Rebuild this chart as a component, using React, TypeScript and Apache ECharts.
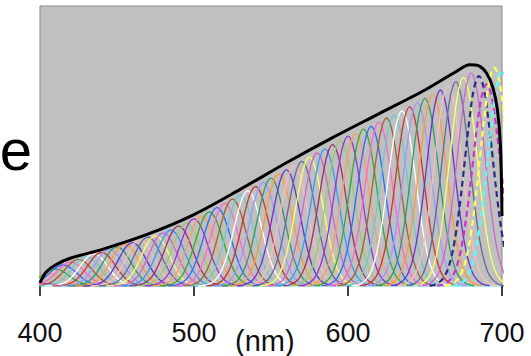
import React, { useEffect, useRef } from "react";
import * as echarts from "echarts";

// Peak wavelengths (nm) of the individual band curves
const CENTERS = [
  400, 405, 410, 415, 420, 425, 430, 435, 440, 445, 450, 455, 460, 465, 470, 475, 480, 485, 490, 495,
  500, 505, 510, 515, 520, 525, 530, 535, 540, 545, 550, 555, 560, 565, 570, 575, 580, 585, 590, 595,
  600, 605, 610, 615, 620, 625, 630, 635, 640, 645, 650, 655, 660, 665, 670, 675, 680, 685, 690, 695, 700,
];
// Peak heights (relative) of the band curves
const HEIGHTS = [
  0.01, 0.045, 0.06, 0.075, 0.085, 0.095, 0.105, 0.115, 0.12, 0.13, 0.14, 0.15, 0.155, 0.165, 0.175, 0.18, 0.19, 0.2, 0.215, 0.225,
  0.24, 0.25, 0.265, 0.28, 0.295, 0.31, 0.325, 0.34, 0.355, 0.37, 0.385, 0.4, 0.415, 0.43, 0.445, 0.46, 0.475, 0.49, 0.505, 0.52,
  0.535, 0.545, 0.56, 0.57, 0.585, 0.6, 0.61, 0.625, 0.64, 0.655, 0.67, 0.685, 0.7, 0.715, 0.73, 0.745, 0.76, 0.75, 0.72, 0.78, 0.77,
];
// Band shape: offset from peak (nm) and relative height
const PROFILE_OFFSET = [-32, -27, -22, -18, -15, -12, -9, -6, -3, 0, 3, 6, 9, 12, 15, 18, 22, 27, 32];
const PROFILE_REL = [0.002, 0.011, 0.05, 0.135, 0.249, 0.411, 0.607, 0.801, 0.946, 1, 0.946, 0.801, 0.607, 0.411, 0.249, 0.135, 0.05, 0.011, 0.002];

// Black envelope curve
const ENVELOPE_X = [400, 404, 410, 420, 440, 470, 500, 530, 560, 590, 620, 650, 670, 679, 685, 690, 694, 697, 699, 700];
const ENVELOPE_Y = [0.011, 0.05, 0.075, 0.1, 0.13, 0.185, 0.255, 0.345, 0.44, 0.53, 0.615, 0.7, 0.765, 0.79, 0.786, 0.76, 0.71, 0.63, 0.5, 0.25];

const TICKS = [400, 500, 600, 700];
const DASHED = [685, 690, 695, 700];
const X_UNIT = "(nm)";
const SIDE_TEXT = "e";

const PALETTE = [
  "#9933cc", "#ff9966", "#33aa33", "#3366ff", "#ff66cc", "#996633", "#66cccc", "#ffffff",
  "#cc3333", "#9999ff", "#339966", "#ff9933", "#6633cc", "#ffbbbb", "#666699", "#ffff66",
  "#cc66cc", "#3399ff", "#993366", "#99cc66",
];
const DASH_COLORS = ["#2a2a8a", "#cc33cc", "#ffff55", "#55ffff"];

export default function App() {
  const ref = useRef<HTMLDivElement>(null);
  useEffect(() => {
    if (!ref.current) return;
    const chart = echarts.init(ref.current, undefined, { renderer: "svg" });
    const bandSeries = CENTERS.map((c, i) => {
      const di = DASHED.indexOf(c);
      const dashed = di >= 0;
      return {
        type: "line",
        data: PROFILE_OFFSET.map((d, k) => [c + d, HEIGHTS[i] * PROFILE_REL[k]]),
        smooth: 0.4,
        showSymbol: false,
        silent: true,
        lineStyle: {
          color: dashed ? DASH_COLORS[di] : PALETTE[i % PALETTE.length],
          width: dashed ? 2.2 : 1.3,
          type: dashed ? [6, 4] : "solid",
        },
      };
    });
    const envelope = {
      type: "line",
      data: ENVELOPE_X.map((x, i) => [x, ENVELOPE_Y[i]]),
      smooth: 0.3,
      showSymbol: false,
      silent: true,
      lineStyle: { color: "#000", width: 3 },
      z: 5,
    };
    chart.setOption({
      animation: false,
      backgroundColor: "#ffffff",
      grid: {
        left: 40,
        right: 29,
        top: 6,
        bottom: 70,
        show: true,
        backgroundColor: "#c0c0c0",
        borderColor: "#8a8a8a",
        borderWidth: 1,
      },
      xAxis: {
        type: "value",
        min: 400,
        max: 700,
        interval: 100,
        axisLine: { show: true, lineStyle: { color: "#a8ecef", width: 2 } },
        axisTick: { show: true, length: 10, lineStyle: { color: "#000", width: 1.5 }, customValues: TICKS },
        axisLabel: {
          show: true,
          margin: 33,
          customValues: TICKS,
          color: "#111",
          fontSize: 27,
          fontFamily: "Liberation Sans, Arial, sans-serif",
        },
        splitLine: { show: false },
      },
      yAxis: {
        type: "value",
        min: 0,
        max: 1,
        show: false,
        splitLine: { show: false },
      },
      graphic: [
        {
          type: "text",
          left: 235,
          top: 326,
          style: {
            text: X_UNIT,
            fontSize: 29,
            fontFamily: "Liberation Sans, Arial, sans-serif",
            fill: "#111",
          },
        },
        {
          type: "text",
          x: 32,
          y: 149,
          style: {
            text: SIDE_TEXT,
            fontSize: 58,
            fontFamily: "Liberation Sans, Arial, sans-serif",
            fill: "#000",
            align: "right",
            verticalAlign: "middle",
          },
        },
      ],
      series: [...bandSeries, envelope],
    });
    return () => chart.dispose();
  }, []);
  return (
    <div
      ref={ref}
      style={{ position: "fixed", left: 0, top: 0, width: 531, height: 356, background: "#fff" }}
    />
  );
}
